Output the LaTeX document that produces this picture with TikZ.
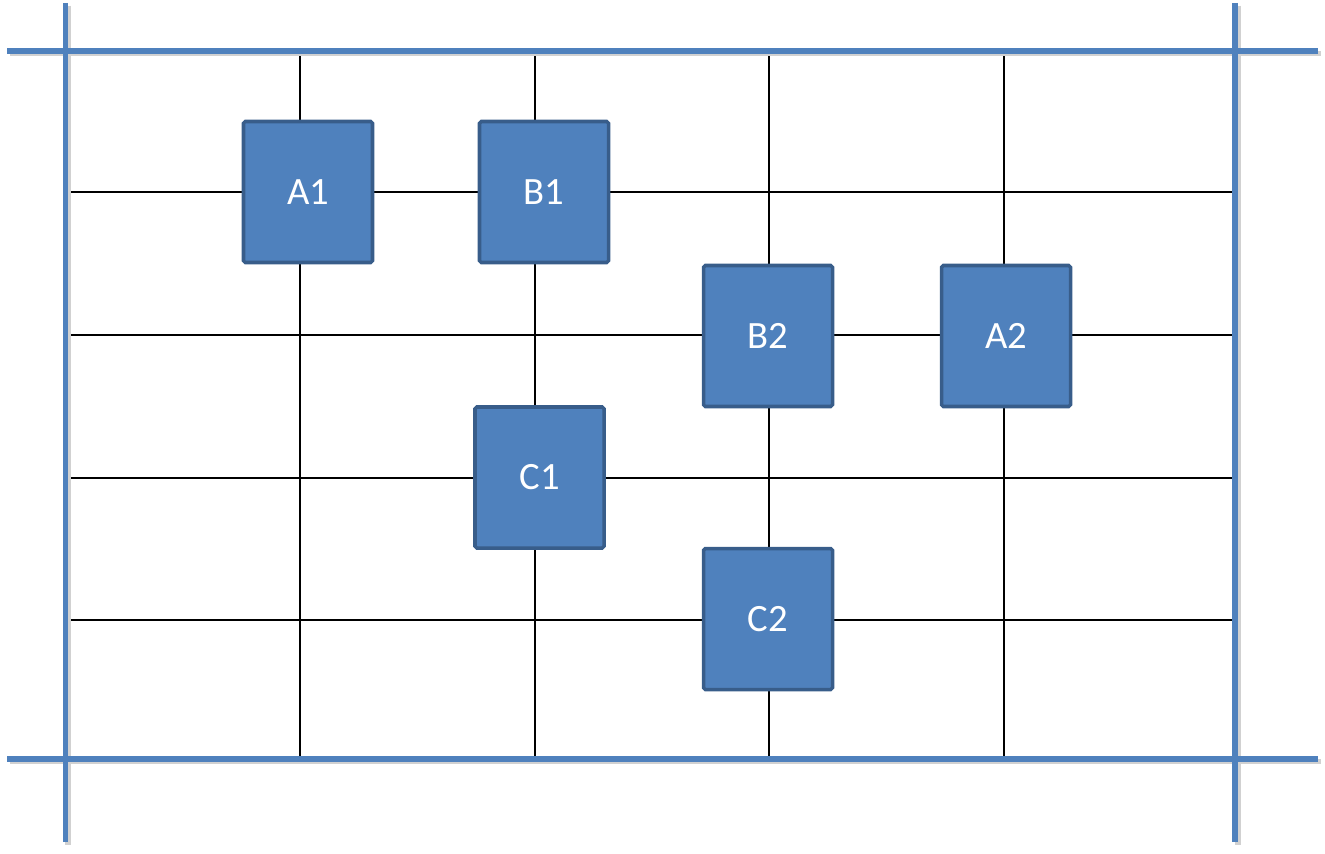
\documentclass[tikz,border=0pt]{standalone}
\usepackage{fontspec}
\setmainfont{Carlito}
\usepackage{xcolor}
\definecolor{OffBlue}{HTML}{4F81BD}
\definecolor{OffEdge}{HTML}{385D8A}
\usepackage{tikz}

\begin{document}
\begin{tikzpicture}[
    cell/.style={draw=OffEdge, fill=OffBlue, line width=2pt, rounded corners=1pt,
        minimum width=2.58cm, minimum height=2.82cm, text=white,
        font=\fontsize{22}{26}\selectfont},
    wire/.style={black, line width=1.1pt},
    rail/.style={OffBlue, line width=3.4pt},
    railshade/.style={black!18, line width=3.4pt},
]
% Page: 1325 x 853 px at 0.02cm/px
\useasboundingbox (0,0) rectangle (26.5,-17.06);

\def\xL{1.31}
\def\xR{24.70}
\def\yT{-1.02}
\def\yB{-15.18}

% Inner grid
\foreach \x in {6.00, 10.70, 15.38, 20.08}
    \draw[wire] (\x, \yT) -- (\x, \yB);
\foreach \y in {-3.84, -6.70, -9.56, -12.40}
    \draw[wire] (1.36, \y) -- (24.76, \y);

% Outer rails (shadow first)
\draw[railshade] (0.19, \yT-0.05) -- (26.41, \yT-0.05);
\draw[railshade] (0.19, \yB-0.05) -- (26.41, \yB-0.05);
\draw[railshade] (\xL+0.05, -0.11) -- (\xL+0.05, -16.89);
\draw[railshade] (\xR+0.05, -0.11) -- (\xR+0.05, -16.89);
\draw[rail] (0.14, \yT) -- (26.36, \yT);
\draw[rail] (0.14, \yB) -- (26.36, \yB);
\draw[rail] (\xL, -0.06) -- (\xL, -16.84);
\draw[rail] (\xR, -0.06) -- (\xR, -16.84);

% Blocks
\node[cell] (A1) at (6.16, -3.84) {A1};
\node[cell] (B1) at (10.88, -3.84) {B1};
\node[cell] (B2) at (15.36, -6.72) {B2};
\node[cell] (A2) at (20.12, -6.72) {A2};
\node[cell] (C1) at (10.79, -9.55) {C1};
\node[cell] (C2) at (15.36, -12.38) {C2};

\end{tikzpicture}
\end{document}
